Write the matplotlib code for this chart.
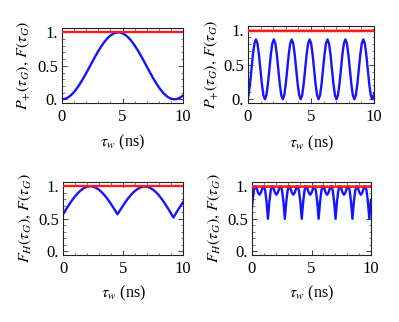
import numpy as np
import matplotlib
matplotlib.use("Agg")
import matplotlib.pyplot as plt
from matplotlib.ticker import MultipleLocator, FixedLocator, FixedFormatter

plt.rcParams['font.family'] = 'serif'
plt.rcParams['font.serif'] = ['Liberation Serif', 'DejaVu Serif']
plt.rcParams['mathtext.fontset'] = 'stix'

# ---------------- data ----------------
# panel (a): slow oscillation, P_+ and F
t_slow1 = [0.0, 0.25, 0.5, 0.75, 1.0, 1.25, 1.5, 1.75, 2.0, 2.25, 2.5, 2.75, 3.0, 3.25,
           3.5, 3.75, 4.0, 4.25, 4.5, 4.75, 5.0, 5.25, 5.5, 5.75, 6.0, 6.25, 6.5, 6.75,
           7.0, 7.25, 7.5, 7.75, 8.0, 8.25, 8.5, 8.75, 9.0, 9.25, 9.5, 9.75, 10.0]
p_slow = [0.0, 0.007, 0.028, 0.063, 0.110, 0.168, 0.236, 0.311, 0.391, 0.475, 0.559,
          0.642, 0.720, 0.793, 0.857, 0.910, 0.953, 0.982, 0.997, 0.999, 0.986, 0.960,
          0.920, 0.868, 0.806, 0.735, 0.658, 0.576, 0.492, 0.408, 0.326, 0.250, 0.181,
          0.121, 0.071, 0.034, 0.010, 0.000, 0.005, 0.023, 0.055]
f_red1 = [0.999] * len(t_slow1)

# panel (c): slow oscillation, F_H and F
t_slow3 = [0.0, 0.25, 0.5, 0.75, 1.0, 1.25, 1.5, 1.75, 2.0, 2.25, 2.5, 2.75, 3.0, 3.25,
           3.5, 3.75, 4.0, 4.25, 4.5, 4.54, 4.75, 5.0, 5.25, 5.5, 5.75, 6.0, 6.25, 6.5,
           6.75, 7.0, 7.25, 7.5, 7.75, 8.0, 8.25, 8.5, 8.75, 9.0, 9.2, 9.25, 9.5, 9.75, 10.0]
fh_slow = [0.570, 0.644, 0.716, 0.783, 0.844, 0.897, 0.940, 0.973, 0.993, 1.000, 0.995,
           0.976, 0.946, 0.904, 0.853, 0.794, 0.727, 0.656, 0.582, 0.570, 0.631, 0.702,
           0.770, 0.831, 0.885, 0.929, 0.963, 0.985, 0.995, 0.992, 0.976, 0.948, 0.908,
           0.859, 0.799, 0.732, 0.660, 0.583, 0.520, 0.535, 0.612, 0.685, 0.754]
f_red3 = [1.0] * len(t_slow3)

# panels (b) and (d): fast oscillation
t_fast = [0.0, 0.0383, 0.1567, 0.275, 0.3933, 0.5117, 0.63, 0.7483, 0.8667, 0.985, 1.1033,
          1.2217, 1.34, 1.4583, 1.5767, 1.695, 1.8133, 1.9317, 2.05, 2.1683, 2.2867, 2.405,
          2.5233, 2.6417, 2.76, 2.8783, 2.9967, 3.115, 3.2333, 3.3517, 3.47, 3.5883, 3.7067,
          3.825, 3.9433, 4.0617, 4.18, 4.2983, 4.4167, 4.535, 4.6533, 4.7717, 4.89, 5.0083,
          5.1267, 5.245, 5.3633, 5.4817, 5.60, 5.7183, 5.8367, 5.955, 6.0733, 6.1917, 6.31,
          6.4283, 6.5467, 6.665, 6.7833, 6.9017, 7.02, 7.1383, 7.2567, 7.375, 7.4933, 7.6117,
          7.73, 7.8483, 7.9667, 8.085, 8.2033, 8.3217, 8.44, 8.5583, 8.6767, 8.795, 8.9133,
          9.0317, 9.15, 9.2683, 9.3867, 9.505, 9.6233, 9.7417, 9.86, 9.9783, 10.0]
p_fast = [0.027,
          0.058, 0.218, 0.435, 0.653, 0.812, 0.870, 0.812, 0.653, 0.435, 0.218, 0.058, 0.0,
          0.058, 0.218, 0.435, 0.653, 0.812, 0.870, 0.812, 0.653, 0.435, 0.218, 0.058, 0.0,
          0.058, 0.218, 0.435, 0.653, 0.812, 0.870, 0.812, 0.653, 0.435, 0.218, 0.058, 0.0,
          0.058, 0.218, 0.435, 0.653, 0.812, 0.870, 0.812, 0.653, 0.435, 0.218, 0.058, 0.0,
          0.058, 0.218, 0.435, 0.653, 0.812, 0.870, 0.812, 0.653, 0.435, 0.218, 0.058, 0.0,
          0.058, 0.218, 0.435, 0.653, 0.812, 0.870, 0.812, 0.653, 0.435, 0.218, 0.058, 0.0,
          0.058, 0.218, 0.435, 0.653, 0.812, 0.870, 0.812, 0.653, 0.435, 0.218, 0.058, 0.0,
          0.058, 0.08]
fh_fast = [0.68,
           0.759, 0.939, 1.0, 0.967, 0.901, 0.870, 0.901, 0.967, 1.0, 0.939, 0.759, 0.5,
           0.759, 0.939, 1.0, 0.967, 0.901, 0.870, 0.901, 0.967, 1.0, 0.939, 0.759, 0.5,
           0.759, 0.939, 1.0, 0.967, 0.901, 0.870, 0.901, 0.967, 1.0, 0.939, 0.759, 0.5,
           0.759, 0.939, 1.0, 0.967, 0.901, 0.870, 0.901, 0.967, 1.0, 0.939, 0.759, 0.5,
           0.759, 0.939, 1.0, 0.967, 0.901, 0.870, 0.901, 0.967, 1.0, 0.939, 0.759, 0.5,
           0.759, 0.939, 1.0, 0.967, 0.901, 0.870, 0.901, 0.967, 1.0, 0.939, 0.759, 0.5,
           0.759, 0.939, 1.0, 0.967, 0.901, 0.870, 0.901, 0.967, 1.0, 0.939, 0.759, 0.5,
           0.759, 0.79]
f_red_fast = [1.0, 0.988, 1.0, 0.988, 1.0, 0.988, 1.0, 0.988, 1.0, 0.988, 1.0, 0.988, 1.0,
              0.988, 1.0, 0.988, 1.0, 0.988, 1.0, 0.988, 1.0, 0.988, 1.0, 0.988, 1.0, 0.988,
              1.0, 0.988, 1.0, 0.988, 1.0, 0.988, 1.0, 0.988, 1.0, 0.988, 1.0, 0.988, 1.0,
              0.988, 1.0, 0.988, 1.0, 0.988, 1.0, 0.988, 1.0, 0.988, 1.0, 0.988, 1.0, 0.988,
              1.0, 0.988, 1.0, 0.988, 1.0, 0.988, 1.0, 0.988, 1.0, 0.988, 1.0, 0.988, 1.0,
              0.988, 1.0, 0.988, 1.0, 0.988, 1.0, 0.988, 1.0, 0.988, 1.0, 0.988, 1.0, 0.988,
              1.0, 0.988, 1.0, 0.988, 1.0, 0.988, 1.0, 0.988, 1.0]

x_ticks = [0, 5, 10]
x_ticklabels = ["0", "5", "10"]
y_ticks = [0.0, 0.5, 1.0]
y_ticklabels = ["0.", "0.5", "1."]
ylabel_top = r"$P_{+}(\tau_G),\, F(\tau_G)$"
ylabel_bot = r"$F_H(\tau_G),\, F(\tau_G)$"
xlabel = r"$\tau_w$ (ns)"

BLUE = "#1414ff"
RED = "#ff1a1a"

W, H = 399, 322
fig = plt.figure(figsize=(W / 100, H / 100), dpi=100)


def make_ax(l, t, r, b):
    return fig.add_axes([l / W, 1 - b / H, (r - l) / W, (b - t) / H])


panels = [
    (make_ax(62, 28, 183, 103), t_slow1, p_slow, f_red1, ylabel_top, 25),
    (make_ax(248, 26, 374, 103), t_fast, p_fast, f_red_fast, ylabel_top, 213),
    (make_ax(63, 182, 183, 255), t_slow3, fh_slow, f_red3, ylabel_bot, 27),
    (make_ax(252, 182, 371, 255), t_fast, fh_fast, f_red_fast, ylabel_bot, 216),
]

for ax, tt, blue, red, ylab, ylab_x in panels:
    ax.plot(tt, blue, color=BLUE, lw=1.7, solid_joinstyle='round', zorder=2)
    ax.plot(tt, red, color=RED, lw=1.7, zorder=3)
    ax.set_xlim(0, 10)
    ax.set_ylim(-0.055, 1.065)
    ax.xaxis.set_major_locator(FixedLocator(x_ticks))
    ax.xaxis.set_major_formatter(FixedFormatter(x_ticklabels))
    ax.yaxis.set_major_locator(FixedLocator(y_ticks))
    ax.yaxis.set_major_formatter(FixedFormatter(y_ticklabels))
    ax.xaxis.set_minor_locator(MultipleLocator(1))
    ax.yaxis.set_minor_locator(MultipleLocator(0.1))
    ax.tick_params(which='both', direction='in', top=True, right=True,
                   color='#444444', labelsize=12)
    ax.tick_params(which='major', length=3.5, width=0.7)
    ax.tick_params(which='minor', length=1.8, width=0.5)
    ax.tick_params(axis='x', pad=4.5)
    ax.tick_params(axis='y', pad=3)
    for s in ax.spines.values():
        s.set_linewidth(0.8)
        s.set_color('#222222')
    ax.set_ylabel(ylab, fontsize=11.5)
    ax.set_xlabel(xlabel, fontsize=11.5)
    bb = ax.get_position()
    lx = (ylab_x + 7 - bb.x0 * W) / (bb.width * W)
    ax.yaxis.set_label_coords(lx, 0.5)
    ax.xaxis.set_label_coords(0.5, -0.40)
    ax.xaxis.label.set_va('top')

fig.savefig("out.png", dpi=100)
